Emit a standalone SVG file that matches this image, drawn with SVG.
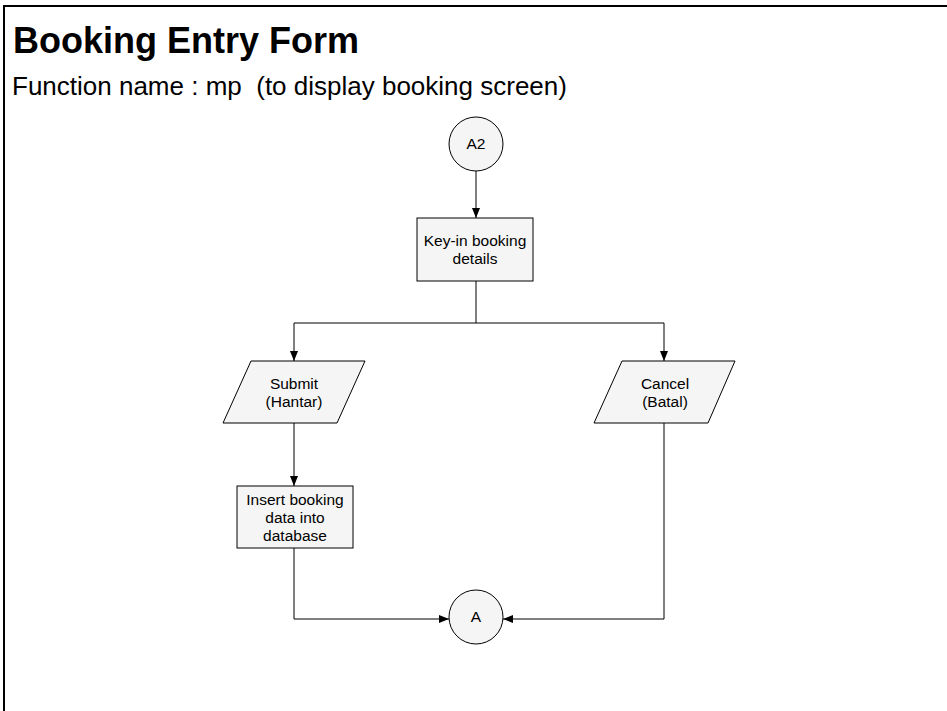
<svg xmlns="http://www.w3.org/2000/svg" width="947" height="711" viewBox="0 0 947 711">
<defs>
<marker id="arr" viewBox="0 0 10 8" refX="10" refY="4" markerWidth="10" markerHeight="8" markerUnits="userSpaceOnUse" orient="auto">
<path d="M0,0 L10,4 L0,8 z" fill="#000"/>
</marker>
</defs>
<style>
.shape{fill:#f5f5f5;stroke:#000;stroke-width:1}
.lbl{font-family:"Liberation Sans",Arial,sans-serif;font-size:15.5px;fill:#000;text-anchor:middle}
.conn{fill:none;stroke:#000;stroke-width:1;marker-end:url(#arr)}
.line{fill:none;stroke:#000;stroke-width:1}
</style>
<rect x="0" y="0" width="947" height="711" fill="#fff"/>
<rect x="4" y="6" width="950" height="720" fill="none" stroke="#000" stroke-width="2"/>
<g id="title">
<text x="13" y="53" font-family="Liberation Sans, Arial, sans-serif" font-size="36" font-weight="bold">Booking Entry Form</text>
<text x="12" y="95" font-family="Liberation Sans, Arial, sans-serif" font-size="26" xml:space="preserve">Function name : mp  (to display booking screen)</text>
</g>
<g id="connectors">
<path class="conn" d="M476,171 V218"/>
<path class="line" d="M476,281 V323"/>
<path class="conn" d="M476,323 H294 V361"/>
<path class="conn" d="M476,323 H664 V361"/>
<path class="conn" d="M294,423 V486"/>
<path class="conn" d="M294,548 V619 H449"/>
<path class="conn" d="M664,423 V619 H503"/>
</g>
<g id="A2">
<circle class="shape" cx="476" cy="144" r="27"/>
<text class="lbl" x="476" y="149">A2</text>
</g>
<g id="keyin">
<rect class="shape" x="417" y="218" width="116" height="63"/>
<text class="lbl" x="475" y="246">Key-in booking</text>
<text class="lbl" x="475" y="264">details</text>
</g>
<g id="submit">
<polygon class="shape" points="251,361 365,361 337,423 223,423"/>
<text class="lbl" x="294" y="389">Submit</text>
<text class="lbl" x="294" y="407">(Hantar)</text>
</g>
<g id="cancel">
<polygon class="shape" points="622,361 735,361 708,423 594,423"/>
<text class="lbl" x="665" y="389">Cancel</text>
<text class="lbl" x="665" y="407">(Batal)</text>
</g>
<g id="insert">
<rect class="shape" x="237" y="486" width="116" height="62"/>
<text class="lbl" x="295" y="505">Insert booking</text>
<text class="lbl" x="295" y="523">data into</text>
<text class="lbl" x="295" y="541">database</text>
</g>
<g id="A">
<circle class="shape" cx="476" cy="617" r="27"/>
<text class="lbl" x="476" y="622">A</text>
</g>
</svg>
